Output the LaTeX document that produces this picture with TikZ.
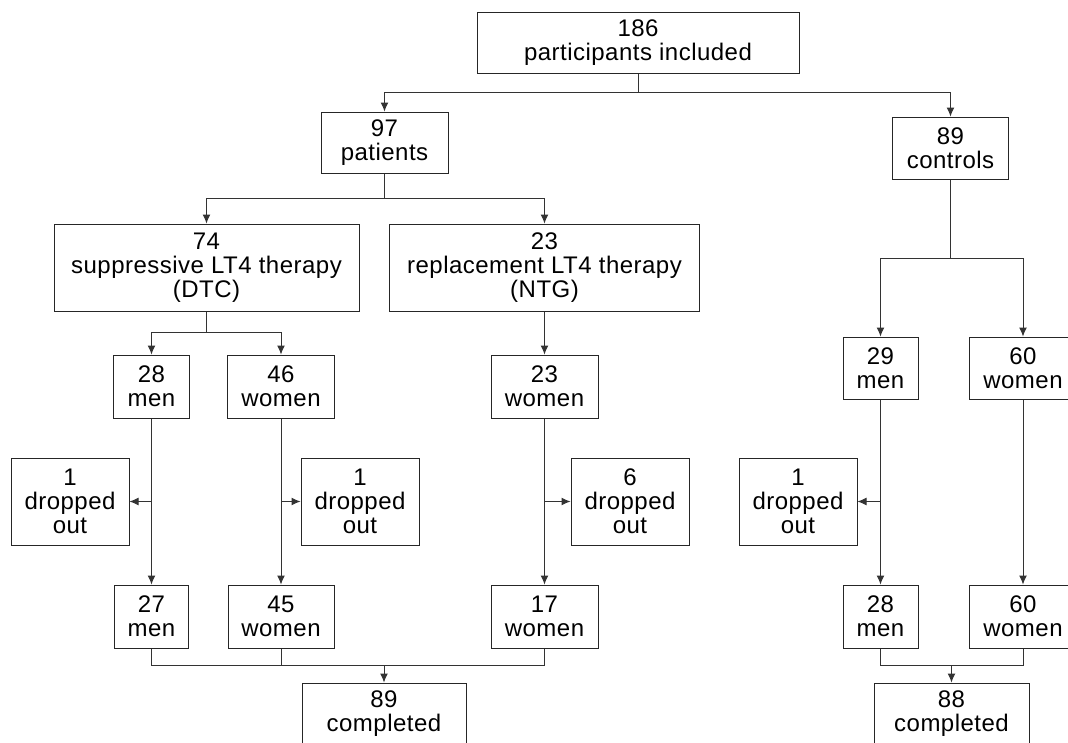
\documentclass[tikz,border=0pt]{standalone}
\usepackage{fontspec}
\setmainfont{Liberation Sans}[LetterSpace=2]
\usetikzlibrary{arrows.meta}

\begin{document}
\begin{tikzpicture}[x=1pt,y=-1pt,
  box/.style={draw=black!85, line width=1pt, inner sep=0pt, align=center,
    font=\fontsize{24}{24}\selectfont},
  ln/.style={draw=black!80, line width=1pt},
  arr/.style={ln, -{Latex[length=9pt,width=8pt]}}]

\useasboundingbox (0,0) rectangle (1068,742);
\clip (0,0) rectangle (1068,742);

% top level
\node[box, minimum width=322pt, minimum height=61pt] (incl) at (638,42.5) {186\\participants included};
\node[box, minimum width=127pt, minimum height=61pt] (pat) at (384.5,142.5) {97\\patients};
\node[box, minimum width=116pt, minimum height=62pt] (ctrl) at (950.5,148) {89\\controls};

\draw[arr] (incl.south) -- ++(0,19) -| (pat.north);
\draw[arr] (incl.south) -- ++(0,19) -| (ctrl.north);

% patients
\node[box, minimum width=305pt, minimum height=87pt] (supp) at (206.5,267.5) {74\\suppressive LT4 therapy\\(DTC)};
\node[box, minimum width=310pt, minimum height=87pt] (repl) at (544.5,267.5) {23\\replacement LT4 therapy\\(NTG)};

\draw[arr] (pat.south) -- ++(0,25) -| (supp.north);
\draw[arr] (pat.south) -- ++(0,25) -| (repl.north);

% DTC and NTG
\node[box, minimum width=76pt, minimum height=63pt] (m28) at (151.5,386.5) {28\\men};
\node[box, minimum width=107pt, minimum height=63pt] (w46) at (281,386.5) {46\\women};
\node[box, minimum width=107pt, minimum height=63pt] (w23) at (544.5,386.5) {23\\women};

\draw[arr] (supp.south) -- ++(0,21) -| (m28.north);
\draw[arr] (supp.south) -- ++(0,21) -| (w46.north);
\draw[arr] (repl.south) -- (w23.north);

% controls
\node[box, minimum width=75pt, minimum height=62pt] (m29) at (880.5,368) {29\\men};
\node[box, minimum width=108pt, minimum height=62pt] (w60) at (1023,368) {60\\women};

\draw[arr] (ctrl.south) -- ++(0,79) -| (m29.north);
\draw[arr] (ctrl.south) -- ++(0,79) -| (w60.north);

% dropped out
\node[box, minimum width=118pt, minimum height=87pt] (d1a) at (70,501.5) {1\\dropped\\out};
\node[box, minimum width=118pt, minimum height=87pt] (d1b) at (360,501.5) {1\\dropped\\out};
\node[box, minimum width=118pt, minimum height=87pt] (d6) at (630,501.5) {6\\dropped\\out};
\node[box, minimum width=118pt, minimum height=87pt] (d1c) at (798,501.5) {1\\dropped\\out};

% remaining
\node[box, minimum width=74pt, minimum height=63pt] (m27) at (151.5,616.5) {27\\men};
\node[box, minimum width=106pt, minimum height=63pt] (w45) at (281,616.5) {45\\women};
\node[box, minimum width=107pt, minimum height=63pt] (w17) at (544.5,616.5) {17\\women};
\node[box, minimum width=75pt, minimum height=63pt] (m28c) at (880.5,616.5) {28\\men};
\node[box, minimum width=108pt, minimum height=63pt] (w60c) at (1023,616.5) {60\\women};

\draw[arr] (m28.south) -- (m27.north);
\draw[arr] (w46.south) -- (w45.north);
\draw[arr] (w23.south) -- (w17.north);
\draw[arr] (m29.south) -- (m28c.north);
\draw[arr] (w60.south) -- (w60c.north);

\draw[arr] (m28.south |- d1a.east) -- (d1a.east);
\draw[arr] (w46.south |- d1b.west) -- (d1b.west);
\draw[arr] (w23.south |- d6.west) -- (d6.west);
\draw[arr] (m29.south |- d1c.east) -- (d1c.east);

% completed
\node[box, minimum width=164pt, minimum height=62pt] (done89) at (384,714) {89\\completed};
\node[box, minimum width=155pt, minimum height=62pt] (done88) at (951.5,714) {88\\completed};

\coordinate (jL) at (384,665);
\coordinate (jR) at (951.5,665);

\draw[ln] (m27.south) |- (jL) -| (w17.south);
\draw[ln] (w45.south) -- (w45.south |- jL);
\draw[arr] (jL) -- (done89.north);
\draw[ln] (m28c.south) |- (jR) -| (w60c.south);
\draw[arr] (jR) -- (done88.north);

\end{tikzpicture}
\end{document}
